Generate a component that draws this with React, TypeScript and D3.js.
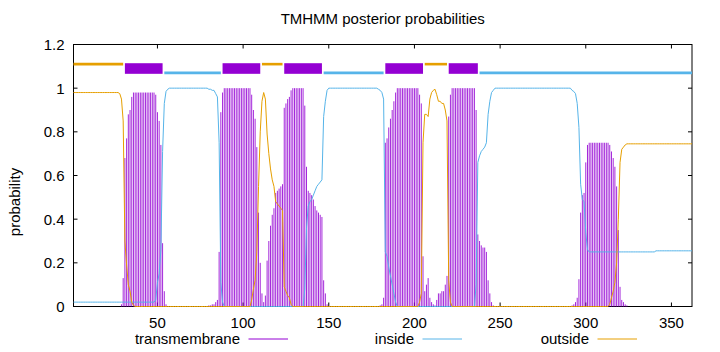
import React from "react";
import * as d3 from "d3";

// ---- data (per residue, residue 1..362) ----
const TM_PROB = [
  0,0,0,0,0,0,0,0,0,0,0,0,0,0,0,0,0,0,0,0,
  0,0,0,0,0,0,0,0,0.01,0.13,0.68,0.77,0.88,0.9,0.96,0.98,0.98,0.98,0.98,0.98,
  0.98,0.98,0.98,0.98,0.98,0.98,0.98,0.98,0.97,0.89,0.85,0.74,0.29,0.07,0.01,0,0,0,0,0,
  0,0,0,0,0,0,0,0,0,0,0,0,0,0,0,0,0,0,0,0.005,
  0.005,0.01,0.01,0.02,0.03,0.25,0.89,0.98,1,1,1,1,1,1,1,1,1,1,1,1,
  1,1,1,1,0.97,0.9,0.86,0.73,0.43,0.2,0.06,0.02,0.05,0.21,0.3,0.37,0.42,0.45,0.52,0.53,
  0.54,0.55,0.56,0.91,0.93,0.95,0.96,0.99,1,1,1,1,1,1,1,0.92,0.64,0.53,0.52,0.51,
  0.49,0.46,0.44,0.43,0.42,0.41,0.12,0.06,0.01,0,0,0,0,0,0,0,0,0,0,0,
  0,0,0,0,0,0,0,0,0,0,0,0,0,0,0,0,0,0,0,0.005,
  0.01,0.04,0.75,0.77,0.82,0.86,0.9,0.94,0.98,1,1,1,1,1,1,1,1,1,1,1,
  1,1,0.97,0.93,0.23,0.07,0.1,0.13,0.04,0.02,0.01,0.005,0.03,0.06,0.06,0.07,0.07,0.1,0.14,0.87,
  0.97,1,1,1,1,1,1,1,1,1,1,1,1,1,1,0.9,0.33,0.3,0.28,0.27,
  0.27,0.25,0.12,0.06,0.02,0.005,0,0,0,0,0,0,0,0,0,0,0,0,0,0,
  0,0,0,0,0,0,0,0,0,0,0,0,0,0,0,0,0,0,0,0,
  0,0,0,0,0,0,0,0,0,0,0,0.005,0.01,0.02,0.04,0.125,0.43,0.51,0.52,0.66,
  0.74,0.75,0.75,0.75,0.75,0.75,0.75,0.75,0.75,0.75,0.75,0.75,0.75,0.74,0.71,0.68,0.64,0.55,0.35,0.09,
  0.03,0.02,0.01,0.005,0,0,0,0,0,0,0,0,0,0,0,0,0,0,0,0,
  0,0,0,0,0,0,0,0,0,0,0,0,0,0,0,0,0,0,0,0,
  0,0,
];

const INSIDE_PROB = [
  0.02,0.02,0.02,0.02,0.02,0.02,0.02,0.02,0.02,0.02,0.02,0.02,0.02,0.02,0.02,0.02,0.02,0.02,0.02,0.02,
  0.02,0.02,0.02,0.02,0.02,0.02,0.02,0.02,0.02,0.02,0.02,0.02,0.02,0.02,0.02,0.02,0.02,0.02,0.02,0.02,
  0.02,0.02,0.02,0.02,0.02,0.02,0.02,0.02,0.03,0.11,0.15,0.26,0.71,0.93,0.985,0.995,1,1,1,1,
  1,1,1,1,1,1,1,1,1,1,1,1,1,1,1,1,1,1,1,0.995,
  0.995,0.99,0.99,0.975,0.96,0.75,0.11,0.02,0,0,0,0,0,0,0,0,0,0,0,0,
  0,0,0,0,0,0,0,0,0,0,0,0,0,0,0,0,0,0,0,0,
  0,0,0,0,0,0,0,0,0,0,0,0,0,0,0,0.08,0.36,0.46,0.48,0.49,
  0.51,0.53,0.55,0.56,0.57,0.58,0.87,0.94,0.99,1,1,1,1,1,1,1,1,1,1,1,
  1,1,1,1,1,1,1,1,1,1,1,1,1,1,1,1,1,1,0.995,0.99,
  0.98,0.95,0.25,0.23,0.18,0.14,0.1,0.06,0.02,0,0,0,0,0,0,0,0,0,0,0,
  0,0,0,0,0,0,0,0,0,0,0,0,0,0,0,0,0,0,0,0,
  0,0,0,0,0,0,0,0,0,0,0,0,0,0,0,0.1,0.66,0.69,0.71,0.72,
  0.73,0.75,0.88,0.94,0.98,0.99,1,1,1,1,1,1,1,1,1,1,1,1,1,1,
  1,1,1,1,1,1,1,1,1,1,1,1,1,1,1,1,1,1,1,1,
  1,1,1,1,1,1,1,1,1,1,1,0.99,0.985,0.975,0.93,0.82,0.56,0.49,0.48,0.34,
  0.26,0.25,0.25,0.25,0.25,0.25,0.25,0.25,0.25,0.25,0.25,0.25,0.25,0.25,0.25,0.25,0.25,0.25,0.25,0.25,
  0.25,0.25,0.25,0.25,0.25,0.25,0.25,0.25,0.25,0.25,0.25,0.25,0.25,0.25,0.25,0.25,0.25,0.25,0.25,0.25,
  0.255,0.255,0.255,0.255,0.255,0.255,0.255,0.255,0.255,0.255,0.255,0.255,0.255,0.255,0.255,0.255,0.255,0.255,0.255,0.255,
  0.255,0.255,
];

const OUTSIDE_PROB = [
  0.98,0.98,0.98,0.98,0.98,0.98,0.98,0.98,0.98,0.98,0.98,0.98,0.98,0.98,0.98,0.98,0.98,0.98,0.98,0.98,
  0.98,0.98,0.98,0.98,0.98,0.98,0.98,0.975,0.95,0.85,0.3,0.19,0.1,0.07,0.02,0.005,0,0,0,0,
  0,0,0,0,0,0,0,0,0,0,0,0,0,0,0,0,0,0,0,0,
  0,0,0,0,0,0,0,0,0,0,0,0,0,0,0,0,0,0,0,0,
  0,0,0,0,0,0,0,0,0,0,0,0,0,0,0,0,0,0,0,0,
  0,0,0,0,0.03,0.08,0.12,0.25,0.55,0.8,0.94,0.98,0.95,0.79,0.7,0.63,0.58,0.55,0.48,0.47,
  0.46,0.45,0.44,0.09,0.07,0.05,0.04,0.01,0,0,0,0,0,0,0,0,0,0,0,0,
  0,0,0,0,0,0,0,0,0,0,0,0,0,0,0,0,0,0,0,0,
  0,0,0,0,0,0,0,0,0,0,0,0,0,0,0,0,0,0,0,0,
  0,0,0,0,0,0,0,0,0,0,0,0,0,0,0,0,0,0,0,0,
  0,0,0.02,0.06,0.75,0.88,0.88,0.87,0.95,0.98,0.99,0.995,0.97,0.94,0.94,0.93,0.93,0.9,0.85,0.12,
  0.02,0,0,0,0,0,0,0,0,0,0,0,0,0,0,0,0,0,0,0,
  0,0,0,0,0,0,0,0,0,0,0,0,0,0,0,0,0,0,0,0,
  0,0,0,0,0,0,0,0,0,0,0,0,0,0,0,0,0,0,0,0,
  0,0,0,0,0,0,0,0,0,0,0,0,0,0,0,0,0,0,0,0,
  0,0,0,0,0,0,0,0,0,0,0,0,0,0.01,0.04,0.07,0.11,0.2,0.4,0.66,
  0.72,0.73,0.74,0.745,0.745,0.745,0.745,0.745,0.745,0.745,0.745,0.745,0.745,0.745,0.745,0.745,0.745,0.745,0.745,0.745,
  0.745,0.745,0.745,0.745,0.745,0.745,0.745,0.745,0.745,0.745,0.745,0.745,0.745,0.745,0.745,0.745,0.745,0.745,0.745,0.745,
  0.745,0.745,
];

// predicted topology segments
const SEG_TYPE = ["outside","TMhelix","inside","TMhelix","outside","TMhelix","inside","TMhelix","outside","TMhelix","inside"];
const SEG_START = [1, 31, 54, 88, 111, 124, 147, 183, 206, 220, 238];
const SEG_END = [30, 53, 87, 110, 123, 146, 182, 205, 219, 237, 362];
const SEG_LEVEL: Record<string, number> = { outside: 1.11, TMhelix: 1.09, inside: 1.07 };

const X_TICKS = [50, 100, 150, 200, 250, 300, 350];
const Y_TICKS = [0, 0.2, 0.4, 0.6, 0.8, 1, 1.2];
const Y_TICK_LABELS = ["0", "0.2", "0.4", "0.6", "0.8", "1", "1.2"];
const LEGEND_LABELS = ["transmembrane", "inside", "outside"];
const TITLE = "TMHMM posterior probabilities";
const Y_LABEL = "probability";
const N_RES = 362;

const C_TM = "#9400d3";
const C_IN = "#56b4e9";
const C_OUT = "#e69f00";
const FONT = "'Liberation Sans', Arial, sans-serif";

export default function App() {
  const W = 720, H = 352;
  const left = 73.5, right = 692, top = 44.5, bottom = 306.5;
  const x = d3.scaleLinear().domain([1, N_RES]).range([left, right]);
  const y = d3.scaleLinear().domain([0, 1.2]).range([bottom, top]);

  const line = d3.line<number>().x((_, i) => x(i + 1)).y((d) => y(d));
  const fs = 15;
  const tick = 4;

  const legendColors = [C_TM, C_IN, C_OUT];
  const legendTextX = [240, 414, 589];

  return (
    <svg width={W} height={H} style={{ position: "absolute", left: 0, top: 0, background: "#fff" }} fontFamily={FONT}>
      <rect x={0} y={0} width={W} height={H} fill="#fff" />
      {/* border */}
      <rect x={left} y={top} width={right - left} height={bottom - top} fill="none" stroke="#000" strokeWidth={1} />
      {X_TICKS.map((t) => (
        <g key={"xt" + t}>
          <line x1={x(t)} x2={x(t)} y1={bottom} y2={bottom - tick} stroke="#000" />
          <line x1={x(t)} x2={x(t)} y1={top} y2={top + tick} stroke="#000" />
          <text x={x(t)} y={bottom + 21} textAnchor="middle" fontSize={fs} fill="#000">{t}</text>
        </g>
      ))}
      {Y_TICKS.map((t, i) => (
        <g key={"yt" + t}>
          <line x1={left} x2={left + tick} y1={y(t)} y2={y(t)} stroke="#000" />
          <line x1={right} x2={right - tick} y1={y(t)} y2={y(t)} stroke="#000" />
          <text x={64.5} y={y(t)} dy="0.36em" textAnchor="end" fontSize={fs} fill="#000">{Y_TICK_LABELS[i]}</text>
        </g>
      ))}
      <text x={(left + right) / 2} y={24} textAnchor="middle" fontSize={fs} fill="#000">{TITLE}</text>
      <text transform={`translate(20,202) rotate(-90)`} textAnchor="middle" fontSize={fs} fill="#000">{Y_LABEL}</text>

      {/* topology bars */}
      {SEG_TYPE.map((t, i) =>
        t === "TMhelix" ? (
          <rect key={"seg" + i} x={x(SEG_START[i])} width={x(SEG_END[i]) - x(SEG_START[i])}
            y={y(SEG_LEVEL[t]) - 5.3} height={10.6} fill={C_TM} />
        ) : (
          <line key={"seg" + i} x1={x(SEG_START[i])} x2={x(SEG_END[i])} y1={y(SEG_LEVEL[t])} y2={y(SEG_LEVEL[t])}
            stroke={t === "inside" ? C_IN : C_OUT} strokeWidth={2.6} />
        )
      )}

      {/* TM impulses */}
      {TM_PROB.map((v, i) =>
        v > 0 ? <line key={"imp" + i} x1={x(i + 1)} x2={x(i + 1)} y1={y(0)} y2={y(v)} stroke={C_TM} strokeWidth={0.85} /> : null
      )}
      <path d={line(INSIDE_PROB) || ""} fill="none" stroke={C_IN} strokeWidth={1} />
      <path d={line(OUTSIDE_PROB) || ""} fill="none" stroke={C_OUT} strokeWidth={1} />

      {/* legend */}
      {LEGEND_LABELS.map((l, i) => (
        <g key={"lg" + i}>
          <text x={legendTextX[i]} y={339} dy="0.36em" textAnchor="end" fontSize={fs} fill="#000">{l}</text>
          <line x1={legendTextX[i] + 8.5} x2={legendTextX[i] + 48} y1={339} y2={339} stroke={legendColors[i]} strokeWidth={1} />
        </g>
      ))}
    </svg>
  );
}
